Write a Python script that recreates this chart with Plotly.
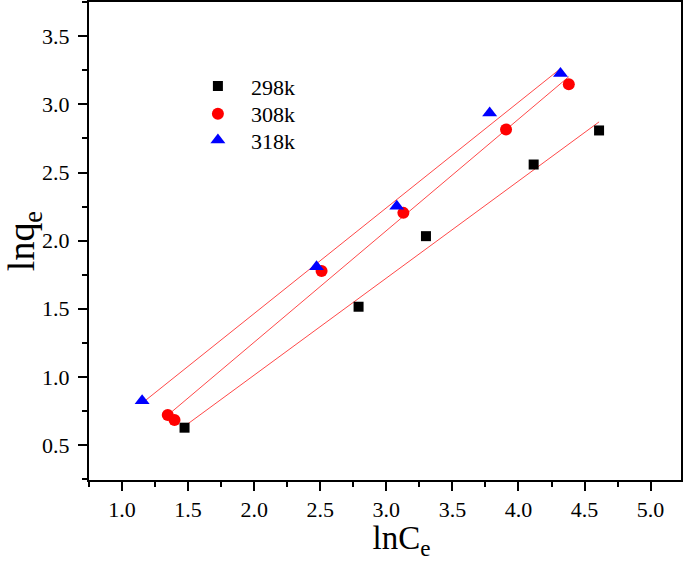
import numpy as np
import plotly.graph_objects as go

# Data
x_298 = [1.473, 2.79, 3.30, 4.115, 4.61]
y_298 = [0.627, 1.515, 2.033, 2.559, 2.809]

x_308 = [1.346, 1.397, 2.51, 3.129, 3.906, 4.381]
y_308 = [0.720, 0.683, 1.777, 2.204, 2.816, 3.149]

x_318 = [1.152, 2.472, 3.079, 3.782, 4.318]
y_318 = [0.825, 1.808, 2.253, 2.938, 3.227]

series_names = ["298k", "308k", "318k"]
tick_vals_x = [1.0, 1.5, 2.0, 2.5, 3.0, 3.5, 4.0, 4.5, 5.0]
tick_vals_y = [0.5, 1.0, 1.5, 2.0, 2.5, 3.0, 3.5]

FONT = "Liberation Serif"

fig = go.Figure()

series = [
    (x_298, y_298, "square", "black", 10),
    (x_308, y_308, "circle", "red", 12),
    (x_318, y_318, "triangle-up", "blue", 13),
]

# linear fit lines (computed from the data)
for xs, ys, *_ in series:
    xa = np.array(xs)
    ya = np.array(ys)
    k, b = np.polyfit(xa, ya, 1)
    xl = np.array([xa.min(), xa.max()])
    fig.add_trace(go.Scatter(x=xl, y=k * xl + b, mode="lines",
                             line=dict(color="rgba(255,40,40,0.85)", width=1),
                             showlegend=False, hoverinfo="skip"))

legend_ids = ["legend", "legend2", "legend3"]
legend_y = [0.824, 0.766, 0.711]

for (xs, ys, sym, col, sz), name, lid in zip(series, series_names, legend_ids):
    fig.add_trace(go.Scatter(x=xs, y=ys, mode="markers", name=name, legend=lid,
                             marker=dict(symbol=sym, color=col, size=sz,
                                         line=dict(width=0))))

axis_common = dict(
    showline=True, linecolor="black", linewidth=2, mirror=True,
    ticks="outside", ticklen=9, tickwidth=2, tickcolor="black",
    showgrid=False, zeroline=False, automargin=False,
    tickfont=dict(family=FONT, size=22, color="black"),
    minor=dict(ticks="outside", ticklen=5, tickwidth=2, tickcolor="black", dtick=0.25),
)

fig.update_xaxes(range=[0.75, 5.23], tickvals=tick_vals_x,
                 ticktext=[f"{v:.1f}" for v in tick_vals_x],
                 title=dict(text="&nbsp;&nbsp;&nbsp;&nbsp;lnC<sub>e</sub>",
                            font=dict(family=FONT, size=33, color="black"),
                            standoff=4),
                 **axis_common)
fig.update_yaxes(range=[0.243, 3.752], tickvals=tick_vals_y,
                 ticktext=[f"{v:.1f}" for v in tick_vals_y],
                 title=dict(text="lnq<sub>e</sub>", font=dict(family=FONT, size=38, color="black"),
                            standoff=4),
                 ticklabelstandoff=4,
                 **axis_common)

legend_common = dict(x=0.162, xanchor="left", yanchor="middle",
                     bgcolor="rgba(0,0,0,0)", borderwidth=0,
                     font=dict(family=FONT, size=22, color="black"),
                     itemwidth=56)

fig.update_layout(
    template="none",
    font=dict(family=FONT, size=22, color="black"),
    width=685, height=561,
    margin=dict(l=89, r=4, t=2, b=81),
    paper_bgcolor="white", plot_bgcolor="white",
    showlegend=True,
    legend=dict(y=legend_y[0], **legend_common),
    legend2=dict(y=legend_y[1], **legend_common),
    legend3=dict(y=legend_y[2], **legend_common),
)

fig.write_html("out.html", config={"displayModeBar": False},
               post_script="document.body.style.margin='0';")
